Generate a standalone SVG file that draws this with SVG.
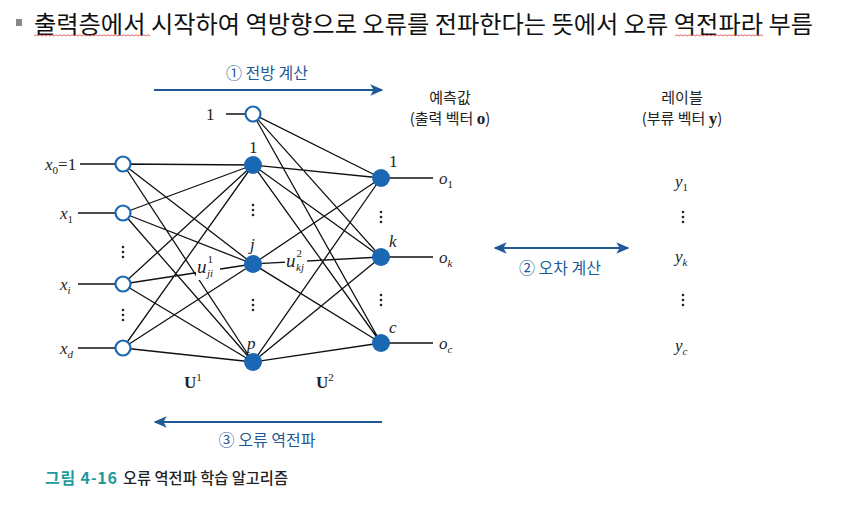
<svg xmlns="http://www.w3.org/2000/svg" width="851" height="512" viewBox="0 0 851 512">
<style>
.kr{font-family:"Noto Sans CJK KR","Noto Sans",sans-serif}
.m{font-family:"Liberation Serif",serif;font-size:17px;fill:#222}
.i{font-style:italic}
.ln{stroke:#111;stroke-width:1.3;fill:none}
.arr{stroke:#1f5a96;stroke-width:2;fill:none}
.open{fill:#fff;stroke:#1a67b3;stroke-width:2.2}
.fill{fill:#1a67b3}
.blue{fill:#1f5a96;font-size:16px}
.dot{fill:#222}
.wav{stroke:#e04040;stroke-width:0.8;fill:none}
</style>
<defs>
<marker id="ah" viewBox="0 0 10 10" refX="9" refY="5" markerWidth="6.5" markerHeight="6.5" orient="auto-start-reverse" markerUnits="strokeWidth">
<path d="M0,0.5 L10,5 L0,9.5 L2.5,5 z" fill="#1f5a96"/>
</marker>
<g id="vd"><circle cx="0" cy="-5" r="1.3"/><circle cx="0" cy="0" r="1.3"/><circle cx="0" cy="5" r="1.3"/></g>
</defs>
<rect width="851" height="512" fill="#fff"/>

<g id="header">
<rect x="16" y="19" width="6" height="7" fill="#888"/>
<text class="kr" x="34" y="33" font-size="24" textLength="779" lengthAdjust="spacingAndGlyphs" fill="#111">출력층에서 시작하여 역방향으로 오류를 전파한다는 뜻에서 오류 역전파라 부름</text>
<path class="wav" d="M34,36 l2,-1.2 l2,1.2 l2,-1.2 l2,1.2 l2,-1.2 l2,1.2 l2,-1.2 l2,1.2 l2,-1.2 l2,1.2 l2,-1.2 l2,1.2 l2,-1.2 l2,1.2 l2,-1.2 l2,1.2 l2,-1.2 l2,1.2 l2,-1.2 l2,1.2 l2,-1.2 l2,1.2 l2,-1.2 l2,1.2 l2,-1.2 l2,1.2 l2,-1.2 l2,1.2 l2,-1.2 l2,1.2 l2,-1.2 l2,1.2 l2,-1.2 l2,1.2 l2,-1.2 l2,1.2 l2,-1.2 l2,1.2 l2,-1.2 l2,1.2 l2,-1.2 l2,1.2 l2,-1.2 l2,1.2 l2,-1.2 l2,1.2 l2,-1.2 l2,1.2 l2,-1.2 l2,1.2 l2,-1.2 l2,1.2 l2,-1.2 l2,1.2 l2,-1.2 l2,1.2 l2,-1.2 l2,1.2"/>
<path class="wav" d="M675,36 l2,-1.2 l2,1.2 l2,-1.2 l2,1.2 l2,-1.2 l2,1.2 l2,-1.2 l2,1.2 l2,-1.2 l2,1.2 l2,-1.2 l2,1.2 l2,-1.2 l2,1.2 l2,-1.2 l2,1.2 l2,-1.2 l2,1.2 l2,-1.2 l2,1.2 l2,-1.2 l2,1.2 l2,-1.2 l2,1.2 l2,-1.2 l2,1.2 l2,-1.2 l2,1.2 l2,-1.2 l2,1.2 l2,-1.2 l2,1.2 l2,-1.2 l2,1.2 l2,-1.2 l2,1.2 l2,-1.2 l2,1.2 l2,-1.2 l2,1.2 l2,-1.2 l2,1.2 l2,-1.2 l2,1.2"/>
</g>

<g id="connectors">
<path class="ln" d="M123,164 L253,165 M123,164 L253,264 M123,164 L253,362
M123,213 L253,165 M123,213 L253,264 M123,213 L253,362
M123,284 L253,165 M123,284 L253,264 M123,284 L253,362
M123,348 L253,165 M123,348 L253,264 M123,348 L253,362"/>
<path class="ln" d="M253,114 L381,178 M253,114 L381,257 M253,114 L381,343
M253,165 L381,178 M253,165 L381,257 M253,165 L381,343
M253,264 L381,178 M253,264 L381,257 M253,264 L381,343
M253,362 L381,178 M253,362 L381,257 M253,362 L381,343"/>
<path class="ln" d="M80,164 L115,164 M78,213 L115,213 M78,284 L115,284 M78,348 L115,348 M226,114 L245,114"/>
<path class="ln" d="M381,178 L433,178 M381,257 L433,257 M381,343 L433,343"/>
<line class="arr" x1="154" y1="90" x2="382" y2="90" marker-end="url(#ah)"/>
<line class="arr" x1="495" y1="248" x2="628" y2="248" marker-start="url(#ah)" marker-end="url(#ah)"/>
<line class="arr" x1="382" y1="422" x2="155" y2="422" marker-end="url(#ah)"/>
</g>

<g id="input-layer">
<g id="x0"><circle class="open" cx="123" cy="164" r="7.5"/><text class="m" x="45" y="170"><tspan class="i">x</tspan><tspan font-size="11" dy="4">0</tspan><tspan dy="-4">=1</tspan></text></g>
<g id="x1"><circle class="open" cx="123" cy="213" r="7.5"/><text class="m" x="60" y="219"><tspan class="i">x</tspan><tspan font-size="11" dy="4">1</tspan></text></g>
<g id="xi"><circle class="open" cx="123" cy="284" r="7.5"/><text class="m" x="60" y="290"><tspan class="i">x</tspan><tspan font-size="11" dy="4" class="i">i</tspan></text></g>
<g id="xd"><circle class="open" cx="123" cy="348" r="7.5"/><text class="m" x="60" y="354"><tspan class="i">x</tspan><tspan font-size="11" dy="4" class="i">d</tspan></text></g>
<use href="#vd" x="123" y="252" class="dot"/>
<use href="#vd" x="123" y="315" class="dot"/>
</g>

<g id="hidden-layer">
<g id="hb"><circle class="open" cx="253" cy="114" r="7.5"/><text class="m" x="206" y="120">1</text></g>
<g id="h1"><circle class="fill" cx="253" cy="165" r="9"/><text class="m" x="249" y="153">1</text></g>
<g id="hj"><circle class="fill" cx="253" cy="264" r="9"/><text class="m i" x="250" y="250">j</text></g>
<g id="hp"><circle class="fill" cx="253" cy="362" r="9"/><text class="m i" x="247" y="349">p</text></g>
<use href="#vd" x="253" y="210" class="dot"/>
<use href="#vd" x="253" y="305" class="dot"/>
</g>

<g id="output-layer">
<g id="o1"><circle class="fill" cx="381" cy="178" r="9"/><text class="m" x="389" y="167">1</text><text class="m" x="439" y="184"><tspan class="i">o</tspan><tspan font-size="11" dy="4">1</tspan></text></g>
<g id="ok"><circle class="fill" cx="381" cy="257" r="9"/><text class="m i" x="389" y="247">k</text><text class="m" x="439" y="263"><tspan class="i">o</tspan><tspan font-size="11" dy="4" class="i">k</tspan></text></g>
<g id="oc"><circle class="fill" cx="381" cy="343" r="9"/><text class="m i" x="389" y="333">c</text><text class="m" x="439" y="349"><tspan class="i">o</tspan><tspan font-size="11" dy="4" class="i">c</tspan></text></g>
<use href="#vd" x="381" y="217" class="dot"/>
<use href="#vd" x="381" y="300" class="dot"/>
</g>

<g id="weights">
<rect x="196" y="256" width="24" height="24" fill="#fff"/>
<text class="m" x="197" y="273"><tspan class="i" font-size="19">u</tspan><tspan font-size="11" dx="1" dy="-10">1</tspan><tspan font-size="11" class="i" dx="-6" dy="14">ji</tspan></text>
<rect x="285" y="250" width="22" height="22" fill="#fff"/>
<text class="m" x="286" y="267"><tspan class="i" font-size="19">u</tspan><tspan font-size="11" dx="1" dy="-10">2</tspan><tspan font-size="11" class="i" dx="-6" dy="14">kj</tspan></text>
<text class="m" x="184" y="388" font-weight="bold" font-size="18">U<tspan font-size="11" font-weight="normal" dy="-7">1</tspan></text>
<text class="m" x="316" y="388" font-weight="bold" font-size="18">U<tspan font-size="11" font-weight="normal" dy="-7">2</tspan></text>
</g>

<g id="labels">
<text class="kr" x="450" y="103" font-size="15" text-anchor="middle" fill="#222">예측값</text>
<text class="kr" x="450" y="124" font-size="15" text-anchor="middle" fill="#222">(출력 벡터 <tspan font-family="Liberation Serif,serif" font-weight="bold" font-size="17">o</tspan>)</text>
<text class="kr" x="682" y="103" font-size="15" text-anchor="middle" fill="#222">레이블</text>
<text class="kr" x="682" y="124" font-size="15" text-anchor="middle" fill="#222">(부류 벡터 <tspan font-family="Liberation Serif,serif" font-weight="bold" font-size="17">y</tspan>)</text>
<text class="m" x="675" y="187"><tspan class="i">y</tspan><tspan font-size="11" dy="4">1</tspan></text>
<text class="m" x="675" y="262"><tspan class="i">y</tspan><tspan font-size="11" dy="4" class="i">k</tspan></text>
<text class="m" x="675" y="351"><tspan class="i">y</tspan><tspan font-size="11" dy="4" class="i">c</tspan></text>
<use href="#vd" x="683" y="217" class="dot"/>
<use href="#vd" x="683" y="300" class="dot"/>
<text class="kr blue" x="267" y="79" text-anchor="middle">① 전방 계산</text>
<text class="kr blue" x="560" y="274" text-anchor="middle">② 오차 계산</text>
<text class="kr blue" x="267" y="446" text-anchor="middle">③ 오류 역전파</text>
</g>

<g id="caption">
<text class="kr" x="45" y="484" font-size="16" font-weight="bold" fill="#1f9a9c" textLength="72" lengthAdjust="spacing">그림 4-16</text>
<text class="kr" x="123" y="484" font-size="15.5" font-weight="500" fill="#222" textLength="165" lengthAdjust="spacingAndGlyphs">오류 역전파 학습 알고리즘</text>
</g>
</svg>
